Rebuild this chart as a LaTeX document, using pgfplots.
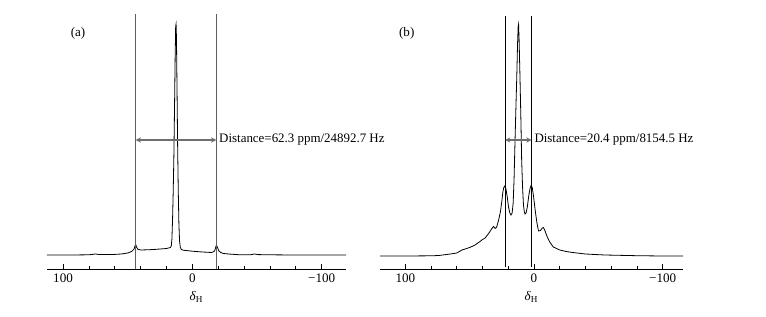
\documentclass[border=0pt]{standalone}
\usepackage{fontspec}
\setmainfont{Liberation Serif}
\usepackage{pgfplots}
\pgfplotsset{compat=1.18}
\usetikzlibrary{arrows.meta}
\definecolor{lgray}{RGB}{95,95,95}
\definecolor{agray}{RGB}{110,110,110}
\pgfplotsset{
  nmr/.style={
    scale only axis, clip=false,
    x dir=reverse,
    axis x line=bottom, axis y line=none,
    axis line style={-, line width=0.6pt},
    ymin=0, ymax=255,
    xtick={-100,0,100},
    xticklabels={−100,0,100},
    minor xtick={-100,-80,...,100},
    tick align=inside,
    major tick length=3.5pt, minor tick length=2.5pt,
    tick style={line width=0.5pt, black},
    ticklabel style={font=\fontsize{9.8}{12}\selectfont},
    xlabel={\textit{δ}\textsubscript{H}},
    xlabel style={font=\fontsize{9.8}{12}\selectfont, yshift=0pt},
  }
}
\begin{document}
\begin{tikzpicture}
\path[use as bounding box] (0,0) rectangle (574.5pt,-237.75pt);
% panel (a)
\begin{axis}[nmr, at={(35.25pt,-201.75pt)}, anchor=south west,
  width=224.25pt, height=191.25pt, xmin=-118.8, xmax=112.4]
\addplot[black, line width=0.6pt] coordinates {
(112.4,14) (95,14) (80,14.2) (75,15) (72,14.5) (60,14.6) (55,15) (50,16) (47,17.5) (45,20) (44.3,23.5) (43.8,24.5) (43.2,22) (42.2,19.8) (40,19) (35,19.2) (30,19.5) (25,20) (20,20.5) (17,21.5) (16.3,23) (15.8,30) (15.3,50) (14.8,78) (14.3,112) (13.8,160) (13.3,212) (12.9,243) (12.6,245) (12.3,232) (11.9,185) (11.4,125) (10.9,78) (10.4,45) (9.9,28) (9.3,21.5) (8.5,19.5) (7,18.8) (0,17.8) (-8,17) (-15,16.5) (-17.2,18) (-18.0,21.5) (-18.6,24) (-19.3,22) (-20.5,18) (-22,16.5) (-24,15.5) (-30,14.8) (-37,14.2) (-45,14.3) (-48,15) (-51,14.4) (-60,14.2) (-80,14) (-100,14) (-118.8,14)
};
\addplot[lgray, line width=0.6pt] coordinates {(43.8,0) (43.8,255)};
\addplot[lgray, line width=0.6pt] coordinates {(-18.5,0) (-18.5,255)};
\addplot[agray, line width=1pt, {Stealth[length=4pt,width=4pt]}-{Stealth[length=4pt,width=4pt]}] coordinates {(43.8,129) (-18.5,129)};
\node[anchor=west, inner sep=0pt, xshift=2pt, font=\fontsize{9.7}{12}\selectfont] at (axis cs:-18.5,129) {Distance=62.3 ppm/24892.7 Hz};
\node[font=\fontsize{9.8}{12}\selectfont] at (axis cs:88.4,236) {(a)};
\end{axis}
% panel (b)
\begin{axis}[nmr, at={(285pt,-201.75pt)}, anchor=south west,
  width=227.25pt, height=191.25pt, xmin=-115.8, xmax=119.7]
\addplot[black, line width=0.6pt] coordinates {
(119.7,13) (100,13) (80,13.2) (74,13.5) (65,15) (60,16) (56,19) (50,21.5) (45.8,24) (42,27.5) (40.6,29) (38,31) (35,36) (33,40) (31.5,42.5) (30.2,40.5) (29,42) (27.5,49) (26,58) (25,68) (24.2,77) (23.5,81.5) (22.7,83) (21.8,80) (20.8,72) (19.8,62) (18.8,56) (17.9,54) (17,56) (16.2,66) (15.5,90) (14.8,126) (14.1,160) (13.4,192) (12.8,225) (12.3,243) (12.0,245) (11.6,230) (11.2,208) (10.9,192) (10.2,150) (9.6,109) (8.9,82) (8.2,64) (7.5,57) (7,55) (6.2,56) (5.2,62) (4,74) (3,81) (2.1,84) (1.3,81) (0.3,72) (-0.6,62) (-1.3,55) (-2.3,46) (-3.5,38) (-5,38.5) (-6.5,41) (-7.3,41.5) (-8.3,39) (-10,33) (-12,27.5) (-15,22) (-20,19) (-25,17.5) (-30,16.5) (-40,15) (-55,14) (-80,13.3) (-100,13) (-115.8,13)
};
\addplot[black, line width=0.7pt] coordinates {(22.5,2) (22.5,253)};
\addplot[black, line width=0.7pt] coordinates {(1.9,2) (1.9,253)};
\addplot[agray, line width=1pt, {Stealth[length=4pt,width=4pt]}-{Stealth[length=4pt,width=4pt]}] coordinates {(22.5,129) (1.9,129)};
\node[anchor=west, inner sep=0pt, xshift=2pt, font=\fontsize{9.7}{12}\selectfont] at (axis cs:1.9,129) {Distance=20.4 ppm/8154.5 Hz};
\node[font=\fontsize{9.8}{12}\selectfont] at (axis cs:98.9,236) {(b)};
\end{axis}
\end{tikzpicture}
\end{document}
